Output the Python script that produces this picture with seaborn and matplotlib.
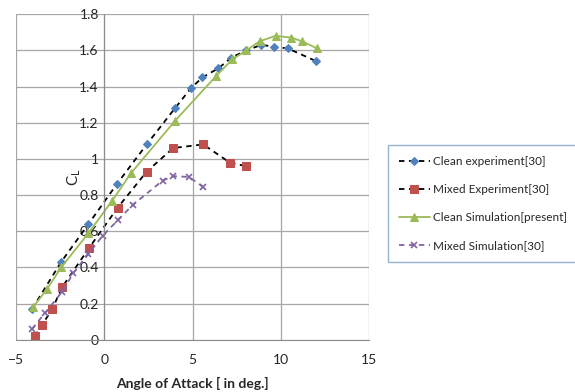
import matplotlib
matplotlib.use('Agg')
import matplotlib.pyplot as plt
import seaborn as sns

# data
clean_exp_x = [-4.1, -2.45, -0.9, 0.7, 2.4, 4.0, 4.9, 5.55, 6.45, 7.2, 8.05, 8.9, 9.6, 10.4, 12.0]
clean_exp_y = [0.17, 0.43, 0.64, 0.86, 1.08, 1.28, 1.39, 1.45, 1.50, 1.56, 1.60, 1.63, 1.62, 1.61, 1.54]

mixed_exp_x = [-3.95, -3.55, -2.95, -2.4, -0.85, 0.75, 2.4, 3.9, 5.6, 7.1, 8.0]
mixed_exp_y = [0.02, 0.08, 0.17, 0.29, 0.51, 0.73, 0.93, 1.06, 1.08, 0.98, 0.96]

clean_sim_x = [-4.05, -3.25, -2.45, -0.9, 0.45, 1.5, 4.0, 6.35, 7.25, 8.05, 8.8, 9.7, 10.6, 11.2, 12.05]
clean_sim_y = [0.18, 0.28, 0.40, 0.59, 0.77, 0.92, 1.21, 1.46, 1.55, 1.60, 1.65, 1.68, 1.67, 1.65, 1.61]

mixed_sim_x = [-4.1, -3.35, -2.4, -1.75, -0.9, -0.1, 0.75, 1.6, 3.3, 3.9, 4.8, 5.6]
mixed_sim_y = [0.06, 0.15, 0.265, 0.37, 0.475, 0.575, 0.66, 0.745, 0.88, 0.905, 0.90, 0.845]

labels = ['Clean experiment[30]', 'Mixed Experiment[30]',
          'Clean Simulation[present]', 'Mixed Simulation[30]']

sns.set_style('white')
plt.rcParams['font.family'] = ['Lato', 'DejaVu Sans']

fig = plt.figure(figsize=(5.75, 3.92), dpi=100)
ax = fig.add_axes([0.028, 0.133, 0.614, 0.831])

dash = (0, (3, 2.5))
# clean experiment
sns.lineplot(x=clean_exp_x, y=clean_exp_y, sort=False, ax=ax, color='black',
             linestyle=dash, lw=1.3, marker='D', markersize=4.5,
             markerfacecolor='#4F81BD', markeredgecolor='#4F81BD', label=labels[0])
# mixed experiment
sns.lineplot(x=mixed_exp_x, y=mixed_exp_y, sort=False, ax=ax, color='black',
             linestyle=dash, lw=1.3, marker='s', markersize=5.5,
             markerfacecolor='#C0504D', markeredgecolor='#C0504D', label=labels[1])
# clean simulation
sns.lineplot(x=clean_sim_x, y=clean_sim_y, sort=False, ax=ax, color='#9BBB59',
             lw=1.3, marker='^', markersize=6,
             markerfacecolor='#9BBB59', markeredgecolor='#9BBB59', label=labels[2])
# mixed simulation
sns.lineplot(x=mixed_sim_x, y=mixed_sim_y, sort=False, ax=ax, color='#8064A2',
             linestyle=dash, lw=1.3, marker='x', markersize=5, markeredgewidth=1.2,
             markeredgecolor='#8064A2', label=labels[3])

ax.set_xlim(-5, 15)
ax.set_ylim(0, 1.8)
ax.set_xticks([-5, 0, 5, 10, 15])
ax.set_yticks([0, 0.2, 0.4, 0.6, 0.8, 1, 1.2, 1.4, 1.6, 1.8])
ax.set_yticklabels(['0', '0.2', '0.4', '0.6', '0.8', '1', '1.2', '1.4', '1.6', '1.8'])
ax.grid(True, color='#a6a6a6', lw=0.9)
ax.set_axisbelow(True)

for s in ['top', 'right']:
    ax.spines[s].set_visible(False)
ax.spines['left'].set_position(('data', 0))
ax.spines['left'].set_color('#8c8c8c')
ax.spines['bottom'].set_color('#8c8c8c')

ax.tick_params(axis='y', length=0, pad=4, labelsize=10, colors='#262626')
ax.tick_params(axis='x', length=4, width=0.9, color='#8c8c8c', pad=6,
               labelsize=10, labelcolor='#262626')

ax.set_xlabel('Angle of Attack [ in deg.]', fontsize=10, fontweight='bold', labelpad=8)
ax.set_ylabel('$\\mathregular{C_L}$', fontsize=11)
ax.yaxis.set_label_coords(0.19, 0.5)

ax.legend(loc='upper left', bbox_to_anchor=(1.054, 0.598), frameon=True,
          fancybox=False, edgecolor='#7f9fc7', fontsize=8.5, labelspacing=1.45,
          handlelength=2.6, borderpad=0.9, handletextpad=0.3, borderaxespad=0)

plt.savefig('out.png', dpi=100)
